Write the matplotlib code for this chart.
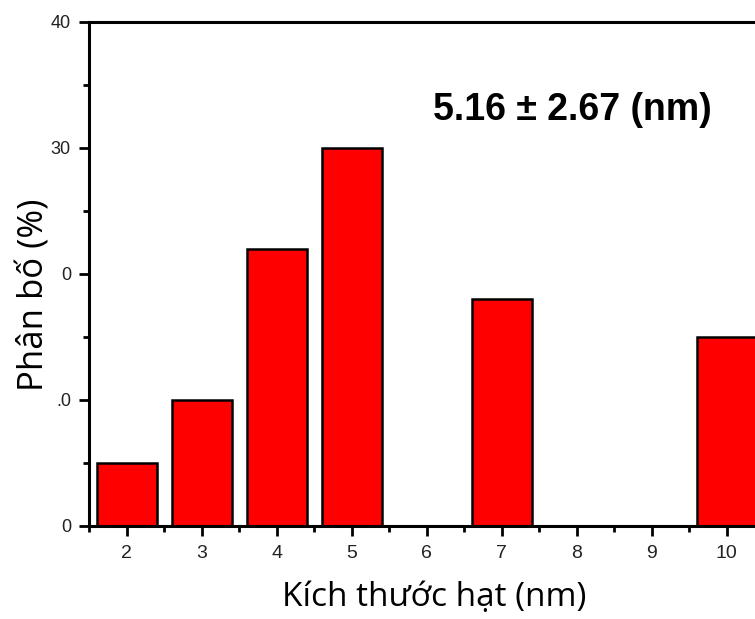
import matplotlib
matplotlib.use("Agg")
import matplotlib.pyplot as plt
from matplotlib.ticker import MultipleLocator

# particle size (nm) and distribution (%)
sizes = [2, 3, 4, 5, 6, 7, 8, 9, 10]
percent = [5, 10, 22, 30, 0, 18, 0, 0, 15]

y_ticks = [0, 10, 20, 30, 40]
# tick labels as they appear (partly hidden under the axis title)
y_tick_labels = ["0", ".0", "0", "30", "40"]
x_ticks = [2, 3, 4, 5, 6, 7, 8, 9, 10]

annotation = "5.16 ± 2.67 (nm)"


def main():
    fig = plt.figure(figsize=(7.55, 6.19), dpi=100)
    ax = fig.add_axes([89 / 755, 1 - 526 / 619, 675 / 755, 504 / 619])

    # bars below the spines so empty bins don't show an outline
    ax.bar(sizes, percent, width=0.8, color="#ff0000", edgecolor="black", linewidth=1.8, zorder=2)

    ax.set_xlim(1.5, 10.5)
    ax.set_ylim(0, 40)
    ax.set_xticks(x_ticks)
    ax.set_xticklabels([str(v) for v in x_ticks])
    ax.set_yticks(y_ticks)
    ax.set_yticklabels(y_tick_labels)
    ax.set_xticks([x + 0.5 for x in range(1, 10)], minor=True)
    ax.yaxis.set_minor_locator(MultipleLocator(5))

    for side in ["left", "bottom", "top", "right"]:
        ax.spines[side].set_linewidth(2.2)
        ax.spines[side].set_zorder(3)

    ax.tick_params(which="major", direction="out", length=7, width=2, labelcolor="#222222")
    ax.tick_params(which="minor", direction="out", length=4, width=2)
    ax.tick_params(axis="x", which="major", labelsize=14, pad=7)
    ax.tick_params(axis="y", which="major", labelsize=13, pad=6)
    for lab in ax.get_xticklabels() + ax.get_yticklabels():
        lab.set_family("Liberation Sans")

    ax.text(7.94, 33, annotation, ha="center", va="center", fontsize=27,
            fontweight="bold", family="Liberation Sans")

    fig.text(434 / 755, 1 - 598 / 619, "Kích thước hạt (nm)", ha="center", va="center",
             fontsize=24, family="Open Sans")
    fig.text(35 / 755, 1 - 295 / 619, "Phân bố (%)", ha="center", va="center",
             rotation=90, fontsize=25, family="Open Sans")

    fig.savefig("out.png", dpi=100)
    plt.close(fig)


if __name__ == "__main__":
    main()
